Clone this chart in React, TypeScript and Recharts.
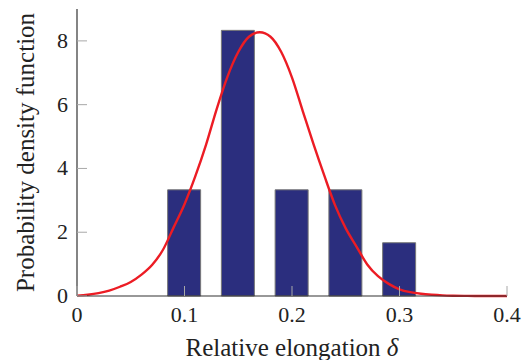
import { Bar, ComposedChart, Line, XAxis, YAxis } from "recharts";

// histogram of relative elongation
const binCenters = [0.1, 0.15, 0.2, 0.25, 0.3];
const binDensity = [3.33, 8.33, 3.33, 3.33, 1.67];

// fitted pdf
const curveX = [
  0, 0.01, 0.02, 0.03, 0.04, 0.05, 0.06, 0.07, 0.08, 0.09, 0.1, 0.11, 0.12,
  0.13, 0.14, 0.15, 0.16, 0.17, 0.18, 0.19, 0.2, 0.21, 0.22, 0.23, 0.24, 0.25,
  0.26, 0.27, 0.28, 0.29, 0.3, 0.31, 0.32, 0.33, 0.34, 0.35, 0.36, 0.37, 0.38,
  0.39, 0.4,
];
const curveY = [
  0.01, 0.04, 0.09, 0.17, 0.29, 0.44, 0.67, 0.98, 1.45, 2.16, 2.88, 3.75, 4.74,
  5.87, 6.88, 7.65, 8.13, 8.27, 8.13, 7.65, 6.85, 5.8, 4.76, 3.78, 2.85, 2.12,
  1.55, 0.99, 0.62, 0.38, 0.21, 0.12, 0.07, 0.04, 0.02, 0.01, 0.005, 0, 0, 0, 0,
];

const xTicks = [0, 0.1, 0.2, 0.3, 0.4];
const yTicks = [0, 2, 4, 6, 8];

const bars = binCenters.map((x, i) => ({ x, density: binDensity[i] }));
const curve = curveX.map((x, i) => ({ x, pdf: curveY[i] }));

const textStyle = { fontFamily: "Liberation Serif, serif" };
const TICK_GREY = "#a8a8a8";

function XTick({ x, y, payload }: any) {
  return (
    <g>
      <line x1={x} y1={y} x2={x} y2={y - 10} stroke={TICK_GREY} strokeWidth={1} />
      <text x={x} y={y + 26} textAnchor="middle" style={textStyle} fontSize={22} fill="#222">
        {payload.value}
      </text>
    </g>
  );
}

function YTick({ x, y, payload }: any) {
  return (
    <g>
      <line x1={x} y1={y} x2={x + 10} y2={y} stroke={TICK_GREY} strokeWidth={1} />
      <text x={x - 9} y={y + 7} textAnchor="end" style={textStyle} fontSize={22} fill="#222">
        {payload.value}
      </text>
    </g>
  );
}

function XTitle({ viewBox }: any) {
  const cx = viewBox.x + viewBox.width / 2;
  return (
    <text x={cx} y={356} textAnchor="middle" style={textStyle} fontSize={25} fill="#222">
      Relative elongation <tspan fontStyle="italic">δ</tspan>
    </text>
  );
}

function YTitle({ viewBox }: any) {
  const cy = viewBox.y + viewBox.height / 2;
  return (
    <text
      x={34}
      y={cy}
      transform={`rotate(-90, 34, ${cy})`}
      textAnchor="middle"
      style={textStyle}
      fontSize={25}
      fill="#222"
    >
      Probability density function
    </text>
  );
}

export default function App() {
  return (
    <div style={{ position: "absolute", left: 0, top: 0, width: 528, height: 360, background: "#fff" }}>
      <ComposedChart
        width={528}
        height={360}
        data={bars}
        margin={{ top: 9, right: 21, bottom: 63, left: 76 }}
      >
        <XAxis
          xAxisId="x"
          dataKey="x"
          type="number"
          domain={[0, 0.4]}
          ticks={xTicks}
          height={1}
          tickSize={0}
          tickMargin={0}
          tickLine={false}
          axisLine={{ stroke: "#333", strokeWidth: 1.2 }}
          tick={<XTick />}
          interval={0}
          label={<XTitle />}
        />
        <XAxis
          xAxisId="bins"
          dataKey="x"
          type="number"
          domain={[0, 0.4]}
          height={0}
          hide
        />
        <YAxis
          type="number"
          domain={[0, 9]}
          ticks={yTicks}
          width={1}
          tickSize={0}
          tickMargin={0}
          tickLine={false}
          axisLine={{ stroke: "#333", strokeWidth: 1.2 }}
          tick={<YTick />}
          interval={0}
          label={<YTitle />}
        />
        <Bar
          xAxisId="bins"
          dataKey="density"
          barSize={33}
          fill="#2b2e7e"
          stroke="#777"
          strokeWidth={1}
          isAnimationActive={false}
        />
        <Line
          xAxisId="x"
          data={curve}
          dataKey="pdf"
          type="monotone"
          stroke="#ec1c24"
          strokeWidth={2.4}
          dot={false}
          activeDot={false}
          isAnimationActive={false}
        />
      </ComposedChart>
    </div>
  );
}
